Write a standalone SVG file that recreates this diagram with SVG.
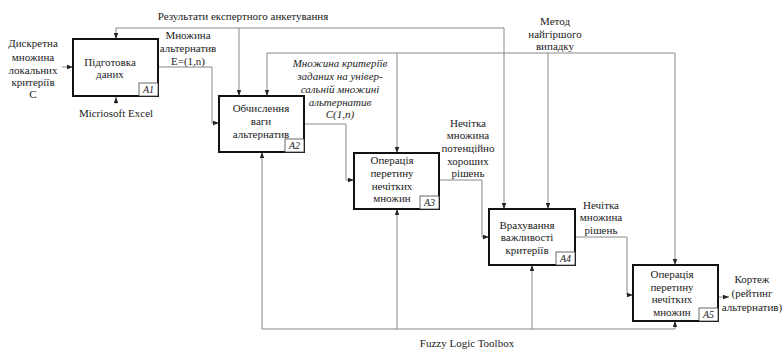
<svg xmlns="http://www.w3.org/2000/svg" width="782" height="349" viewBox="0 0 782 349">
<style>
text{font-family:"Liberation Serif","Times New Roman",serif;font-size:11px;fill:#222;text-anchor:middle}
.it{font-style:italic}
.box{fill:#fff;stroke:#111;stroke-width:2}
.tag{fill:#fff;stroke:#444;stroke-width:0.8}
.tagt{font-style:italic;font-size:10px}
.c{fill:none;stroke:#888;stroke-width:1}
</style>
<defs>
<marker id="ar" markerWidth="6" markerHeight="6" refX="6" refY="3" orient="auto" markerUnits="userSpaceOnUse">
<path d="M0,0.8 L6,3 L0,5.2 z" fill="#222"/>
</marker>
</defs>
<rect width="782" height="349" fill="#fff"/>
<g id="connectors">
<path class="c" d="M504,28 H116 V39" marker-end="url(#ar)"/>
<path class="c" d="M239,28 V96" marker-end="url(#ar)"/>
<path class="c" d="M504,28 V209" marker-end="url(#ar)"/>
<path class="c" d="M675,53 H267 V96" marker-end="url(#ar)"/>
<path class="c" d="M397,53 V153" marker-end="url(#ar)"/>
<path class="c" d="M675,53 V265" marker-end="url(#ar)"/>
<path class="c" d="M548,53 V209" marker-end="url(#ar)"/>
<path class="c" d="M62,67 H73" marker-end="url(#ar)"/>
<path class="c" d="M116,104 V97" marker-end="url(#ar)"/>
<path class="c" d="M158,67 H212 V123 H219" marker-end="url(#ar)"/>
<path class="c" d="M304,124 H346 V180 H354" marker-end="url(#ar)"/>
<path class="c" d="M439,180 H482 V237 H489" marker-end="url(#ar)"/>
<path class="c" d="M575,237 H627 V295 H633" marker-end="url(#ar)"/>
<path class="c" d="M718,297 H729" marker-end="url(#ar)"/>
<path class="c" d="M675,329 H262 V152" marker-end="url(#ar)"/>
<path class="c" d="M397,329 V209" marker-end="url(#ar)"/>
<path class="c" d="M532,329 V265" marker-end="url(#ar)"/>
<path class="c" d="M675,329 V321" marker-end="url(#ar)"/>
</g>
<g id="A1">
<rect class="box" x="73" y="39" width="85" height="57"/>
<rect class="tag" x="139" y="83" width="19" height="13"/>
<text class="tagt" x="148.5" y="93">A1</text>
<text x="110" y="66">Підготовка</text>
<text x="110" y="78">даних</text>
</g>
<g id="A2">
<rect class="box" x="219" y="96" width="85" height="56"/>
<rect class="tag" x="285" y="139" width="19" height="13"/>
<text class="tagt" x="294.5" y="149">A2</text>
<text x="261" y="112">Обчислення</text>
<text x="261" y="125">ваги</text>
<text x="261" y="138">альтернатив</text>
</g>
<g id="A3">
<rect class="box" x="354" y="153" width="85" height="56"/>
<rect class="tag" x="420" y="196" width="19" height="13"/>
<text class="tagt" x="429.5" y="206">A3</text>
<text x="392" y="164">Операція</text>
<text x="392" y="177">перетину</text>
<text x="392" y="190">нечітких</text>
<text x="392" y="202">множин</text>
</g>
<g id="A4">
<rect class="box" x="489" y="209" width="86" height="56"/>
<rect class="tag" x="556" y="252" width="19" height="13"/>
<text class="tagt" x="565.5" y="262">A4</text>
<text x="527" y="229">Врахування</text>
<text x="527" y="241">важливості</text>
<text x="527" y="254">критеріїв</text>
</g>
<g id="A5">
<rect class="box" x="633" y="265" width="85" height="56"/>
<rect class="tag" x="699" y="308" width="19" height="13"/>
<text class="tagt" x="708.5" y="318">A5</text>
<text x="672" y="278">Операція</text>
<text x="672" y="291">перетину</text>
<text x="672" y="303">нечітких</text>
<text x="672" y="316">множин</text>
</g>
<g id="labels">
<text x="243" y="20">Результати експертного анкетування</text>
<text x="188" y="39">Множина</text>
<text x="188" y="52">альтернатив</text>
<text x="188" y="65">E=(1,n)</text>
<text class="it" x="340" y="67">Множина критеріїв</text>
<text class="it" x="340" y="80">заданих на універ-</text>
<text class="it" x="340" y="93">сальній множині</text>
<text class="it" x="340" y="106">альтернатив</text>
<text class="it" x="340" y="118">C(1,n)</text>
<text x="555" y="25">Метод</text>
<text x="555" y="38">найгіршого</text>
<text x="555" y="50">випадку</text>
<text x="468" y="127">Нечітка</text>
<text x="468" y="139">множина</text>
<text x="468" y="152">потенційно</text>
<text x="468" y="165">хороших</text>
<text x="468" y="177">рішень</text>
<text x="601" y="209">Нечітка</text>
<text x="601" y="221">множина</text>
<text x="601" y="234">рішень</text>
<text x="752" y="283">Кортеж</text>
<text x="752" y="297">(рейтинг</text>
<text x="752" y="311">альтернатив)</text>
<text x="33" y="47">Дискретна</text>
<text x="33" y="61">множина</text>
<text x="33" y="74">локальних</text>
<text x="33" y="86">критеріїв</text>
<text x="33" y="98">C</text>
<text x="116" y="117">Micriosoft Excel</text>
<text x="467" y="347">Fuzzy Logic Toolbox</text>
</g>
</svg>
